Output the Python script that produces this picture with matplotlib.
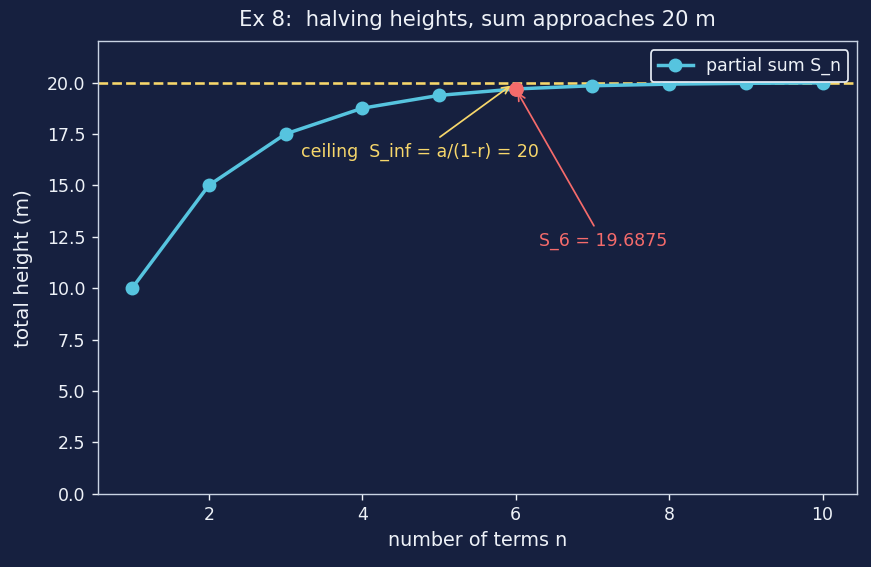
import matplotlib.pyplot as plt

# data: partial sums of 10 + 5 + 2.5 + ...
n = [1, 2, 3, 4, 5, 6, 7, 8, 9, 10]
s_n = [10.0, 15.0, 17.5, 18.75, 19.375, 19.6875, 19.84375, 19.921875, 19.9609375, 19.98046875]
ceiling = 20
hl_n, hl_s = 6, 19.6875

bg = '#16203f'
fg = '#eef2f8'
line_c = '#56c4df'
yel = '#f7d76b'
red = '#f56b6b'

fig, ax = plt.subplots(figsize=(6.968, 4.536), dpi=125)
fig.patch.set_facecolor(bg)
ax.set_facecolor(bg)

ax.axhline(ceiling, color=yel, linestyle='--', linewidth=1.5, zorder=1)
ax.plot(n, s_n, 'o-', color=line_c, linewidth=2, markersize=7, label='partial sum S_n', zorder=2)
ax.plot([hl_n], [hl_s], 'o', color=red, markersize=7.5, zorder=3)

ax.annotate('ceiling  S_inf = a/(1-r) = 20', xy=(5.97, 19.95), xytext=(3.2, 16.4),
            color=yel, fontsize=10, arrowprops=dict(arrowstyle='->', color=yel, lw=1))
ax.annotate('S_6 = 19.6875', xy=(hl_n, hl_s), xytext=(6.3, 12.05),
            color=red, fontsize=10, arrowprops=dict(arrowstyle='->', color=red, lw=1))

ax.set_ylim(0, 22)
ax.set_title('Ex 8:  halving heights, sum approaches 20 m', color=fg, fontsize=12.2, pad=9)
ax.set_xlabel('number of terms n', color=fg, fontsize=11)
ax.set_ylabel('total height (m)', color=fg, fontsize=11.5, labelpad=8)
ax.tick_params(colors=fg, labelsize=10)
for sp in ax.spines.values():
    sp.set_color('#c9d3e3')

leg = ax.legend(loc='upper right', fontsize=10, facecolor=bg, edgecolor='#e6ecf5', framealpha=1)
for t in leg.get_texts():
    t.set_color(fg)

plt.subplots_adjust(left=0.112, right=0.984, top=0.927, bottom=0.129)
plt.savefig('out.png', facecolor=bg)
